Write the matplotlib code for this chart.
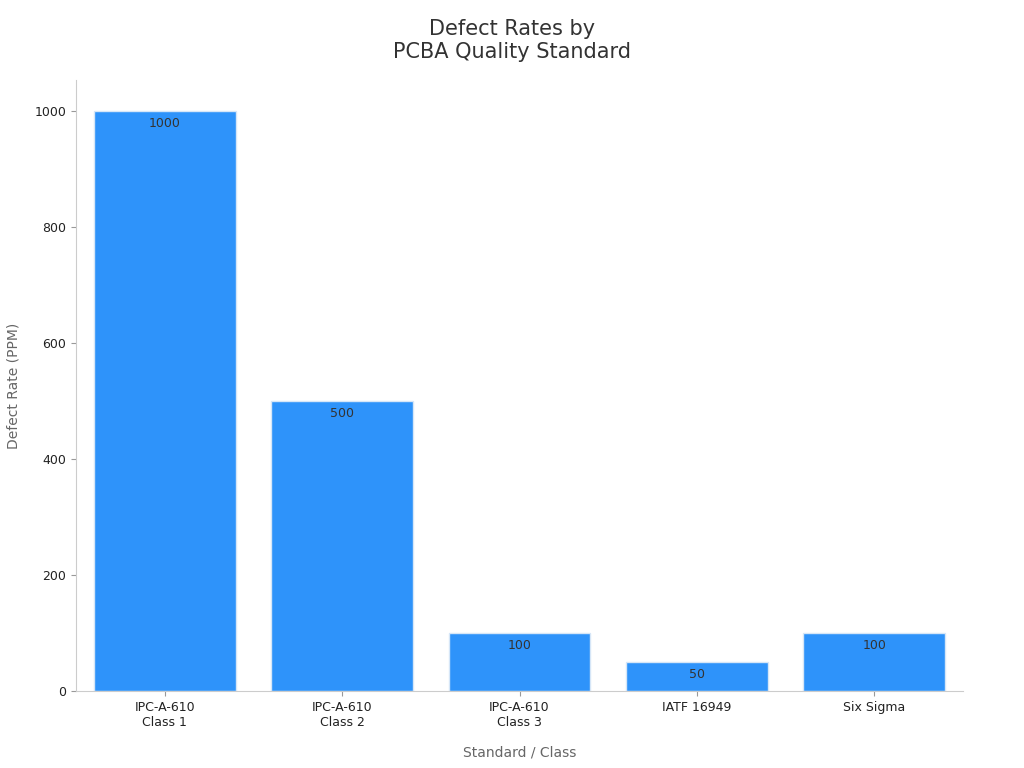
import matplotlib.pyplot as plt

categories = ["IPC-A-610\nClass 1", "IPC-A-610\nClass 2", "IPC-A-610\nClass 3", "IATF 16949", "Six Sigma"]
defect_ppm = [1000, 500, 100, 50, 100]

fig = plt.figure(figsize=(10.24, 7.68), dpi=100)
ax = fig.add_axes([76 / 1024, 1 - 691 / 768, 887 / 1024, 611 / 768])

x = range(len(categories))
bars = ax.bar(x, defect_ppm, width=0.8, color="#2E93FA", edgecolor="#D6E6F7", linewidth=1)
for b, v in zip(bars, defect_ppm):
    ax.text(b.get_x() + b.get_width() / 2, v - 10, str(v), ha="center", va="top",
            fontsize=9, color="#333333")

ax.set_xlim(-0.5, 4.5)
ax.set_ylim(0, 1053)
ax.set_xticks(list(x))
ax.set_xticklabels(categories, fontsize=9, color="#222222")
ax.set_yticks([0, 200, 400, 600, 800, 1000])
ax.tick_params(axis="y", labelsize=9, colors="#222222")
ax.tick_params(color="#999999")
for s in ["top", "right"]:
    ax.spines[s].set_visible(False)
for s in ["left", "bottom"]:
    ax.spines[s].set_color("#CCCCCC")

ax.set_xlabel("Standard / Class", fontsize=10, color="#666666", labelpad=12)
ax.set_ylabel("Defect Rate (PPM)", fontsize=10, color="#666666", labelpad=10)
fig.suptitle("Defect Rates by\nPCBA Quality Standard", fontsize=15, color="#333333", y=0.975)

fig.savefig("out.png", dpi=100)
